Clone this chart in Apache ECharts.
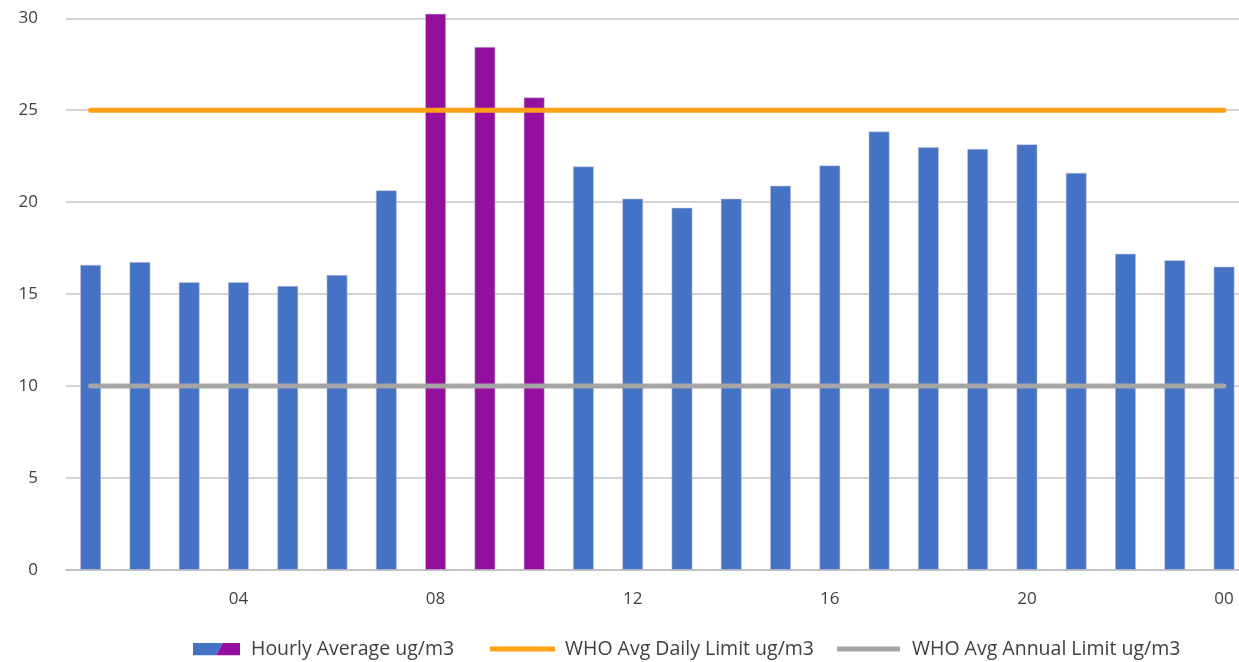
<!DOCTYPE html>
<html>
<head>
<meta charset="utf-8">
<title>Hourly PM2.5 Average</title>
<script src="https://cdn.jsdelivr.net/npm/echarts@6/dist/echarts.min.js"></script>
<style>
  html, body { margin: 0; padding: 0; background: #ffffff; overflow: hidden; }
  /* the last category band runs a little past the visible window edge */
  #chart { width: 1249px; height: 662px; }
</style>
</head>
<body>
<div id="chart"></div>
<script>
// Hours of the day, 01 through 00 (midnight)
const hours = ['01','02','03','04','05','06','07','08','09','10','11','12',
               '13','14','15','16','17','18','19','20','21','22','23','00'];

// Hourly average concentration, ug/m3
const hourlyAverage = [16.6, 16.75, 15.65, 15.65, 15.45, 16.05, 20.65, 30.25, 28.45, 25.7, 21.95, 20.2,
                       19.7, 20.2, 20.9, 22.0, 23.85, 23.0, 22.9, 23.15, 21.6, 17.2, 16.85, 16.5];

// WHO guideline limits, ug/m3
const dailyLimit = 25;
const annualLimit = 10;

const yTicks = [0, 5, 10, 15, 20, 25, 30];

const seriesNames = ['Hourly Average ug/m3', 'WHO Avg Daily Limit ug/m3', 'WHO Avg Annual Limit ug/m3'];

const BLUE = '#4472C4';
const PURPLE = '#940FA0';
const ORANGE = '#FFA114';
const GREY = '#A5A5A5';
const TEXT = '#404040';
const FONT = '"Open Sans", "Noto Sans", sans-serif';

// Two-tone legend swatch for the bar series
const swatchSvg = '<svg xmlns="http://www.w3.org/2000/svg" width="47" height="13">' +
  '<polygon points="0,0 30,0 23,13 0,13" fill="' + BLUE + '"/>' +
  '<polygon points="30,0 47,0 47,13 23,13" fill="' + PURPLE + '"/></svg>';
const swatchIcon = 'image://data:image/svg+xml;charset=utf-8,' + encodeURIComponent(swatchSvg);

const chart = echarts.init(document.getElementById('chart'), null, { renderer: 'canvas' });

function legendText(gap) {
  return { color: TEXT, fontSize: 19.5, fontFamily: FONT, padding: [0, 0, 0, gap] };
}

chart.setOption({
  animation: false,
  backgroundColor: '#ffffff',
  grid: { left: 66, right: 0.3, top: 18.3, bottom: 92, containLabel: false },
  legend: [
    {
      data: [{ name: seriesNames[0], icon: swatchIcon }],
      left: 193, top: 639, padding: 0, itemWidth: 47, itemHeight: 13,
      textStyle: legendText(6), selectedMode: false
    },
    {
      data: [{ name: seriesNames[1], icon: 'rect' }],
      left: 490, top: 639, padding: 0, itemWidth: 65, itemHeight: 5,
      textStyle: legendText(5), selectedMode: false
    },
    {
      data: [{ name: seriesNames[2], icon: 'rect' }],
      left: 837, top: 639, padding: 0, itemWidth: 63, itemHeight: 5,
      textStyle: legendText(7), selectedMode: false
    }
  ],
  xAxis: {
    type: 'category',
    data: hours,
    boundaryGap: true,
    axisLine: { show: true, lineStyle: { color: '#C4C4C4', width: 2 } },
    axisTick: { show: false },
    axisLabel: {
      interval: (index) => (index + 1) % 4 === 0,
      color: TEXT, fontSize: 17, fontFamily: FONT, margin: 21
    },
    splitLine: { show: false }
  },
  yAxis: {
    type: 'value',
    min: yTicks[0],
    max: yTicks[yTicks.length - 1],
    interval: yTicks[1] - yTicks[0],
    axisLine: { show: false },
    axisTick: { show: false },
    axisLabel: { color: TEXT, fontSize: 17, fontFamily: FONT, margin: 28 },
    splitLine: { lineStyle: { color: '#C4C4C4', width: 1.6 } }
  },
  series: [
    {
      name: seriesNames[0],
      type: 'bar',
      data: hourlyAverage,
      barWidth: 21,
      clip: false,
      itemStyle: {
        color: (p) => (p.value > dailyLimit ? PURPLE : BLUE),
        borderColor: 'rgba(200,200,215,0.7)',
        borderWidth: 0.8
      },
      z: 2
    },
    {
      name: seriesNames[1],
      type: 'line',
      data: hours.map(() => dailyLimit),
      showSymbol: false,
      symbol: 'none',
      lineStyle: { color: ORANGE, width: 5, cap: 'round' },
      itemStyle: { color: ORANGE },
      z: 3
    },
    {
      name: seriesNames[2],
      type: 'line',
      data: hours.map(() => annualLimit),
      showSymbol: false,
      symbol: 'none',
      lineStyle: { color: GREY, width: 5, cap: 'round' },
      itemStyle: { color: GREY },
      z: 3
    }
  ]
});
</script>
</body>
</html>
